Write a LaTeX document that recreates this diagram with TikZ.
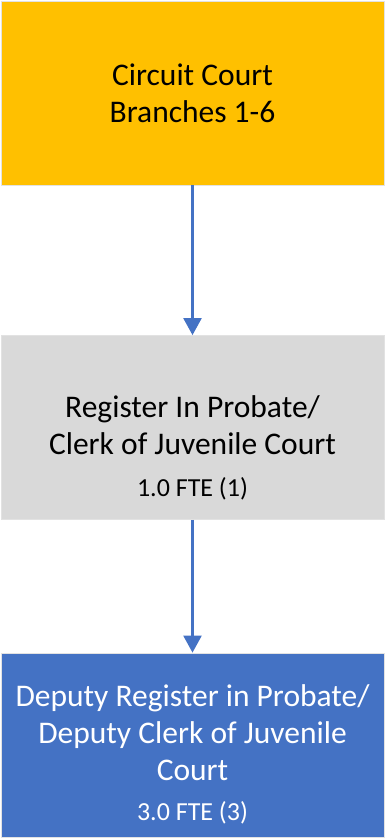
\documentclass[tikz,border=0pt]{standalone}
\usepackage{fontspec}
\setmainfont{Carlito}
\usetikzlibrary{arrows.meta}
\definecolor{orgyellow}{HTML}{FFC000}
\definecolor{orggray}{HTML}{D9D9D9}
\definecolor{orgblue}{HTML}{4472C4}
\definecolor{orgedge}{HTML}{E2E2E2}
\newcommand{\ftesize}{\fontsize{26pt}{37pt}\selectfont}
\begin{document}
\begin{tikzpicture}[
  x=1pt, y=-1pt,
  orgbox/.style={rectangle, draw=orgedge, line width=0.8pt, minimum width=383pt,
    minimum height=184pt, inner sep=0pt},
  orgtext/.style={inner sep=0pt, align=center,
    font=\fontsize{31.5pt}{37pt}\selectfont},
  link/.style={draw=orgblue, line width=2.4pt,
    -{Triangle[width=18pt,length=17pt]}}
]
\useasboundingbox (0,0) rectangle (385,838);
% boxes
\node[orgbox, fill=orgyellow] (court) at (192.5,93) {};
\node[orgbox, fill=orggray] (register) at (192.5,427.5) {};
\node[orgbox, fill=orgblue] (deputy) at (192.5,745) {};
% box texts
\node[orgtext, text=black] (courttext) at (192.5,93)
  {Circuit Court\\Branches 1-6};
\node[orgtext, text=black] (registertext) at (192.5,448)
  {Register In Probate/\\Clerk of Juvenile Court\\[5pt]
   {\ftesize 1.0 FTE (1)}};
\node[orgtext, text=white] (deputytext) at (192.5,754)
  {Deputy Register in Probate/\\Deputy Clerk of Juvenile\\Court\\[3pt]
   {\ftesize 3.0 FTE (3)}};
% reporting lines
\draw[link] (court.south) -- (register.north);
\draw[link] (register.south) -- (deputy.north);
\end{tikzpicture}
\end{document}
